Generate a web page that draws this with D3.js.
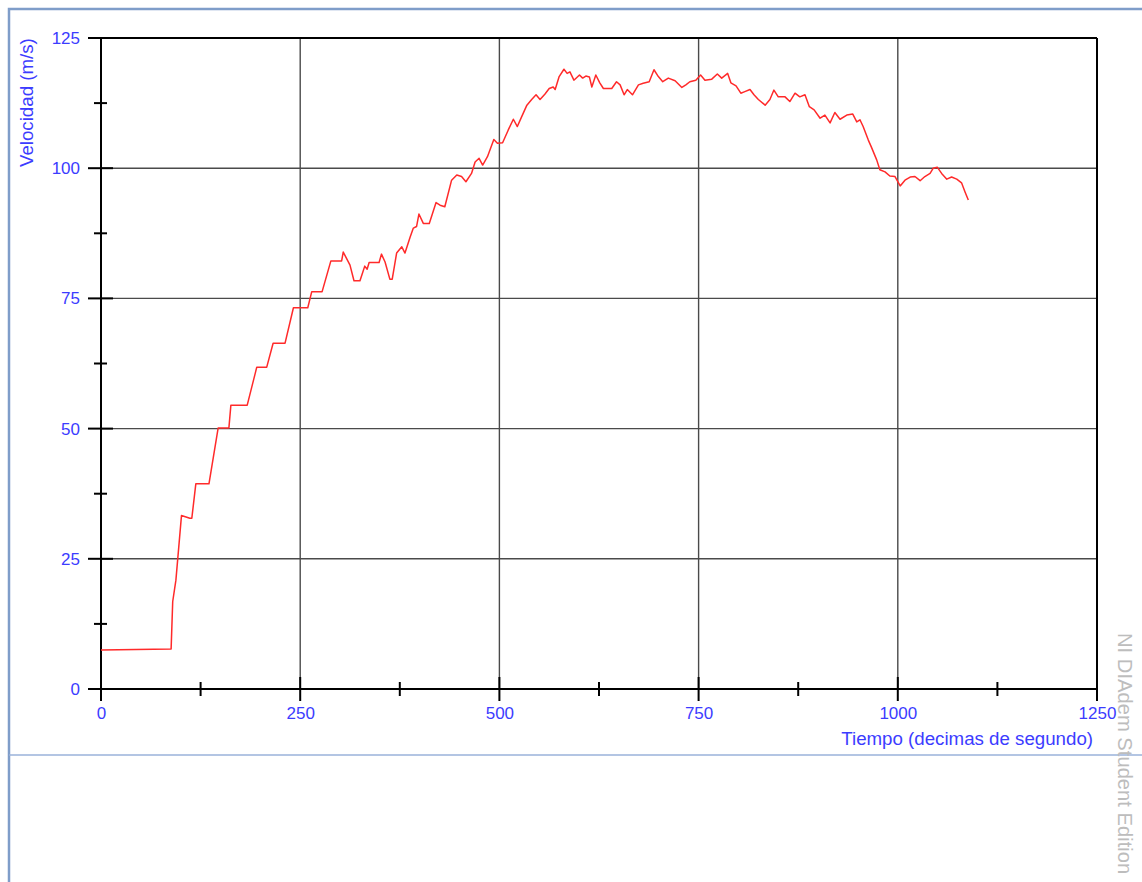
<!DOCTYPE html>
<html>
<head>
<meta charset="utf-8">
<script src="https://cdn.jsdelivr.net/npm/d3@7"></script>
<style>
  html, body { margin: 0; padding: 0; background: #fff; }
  svg { display: block; font-family: "Liberation Sans", Arial, sans-serif; }
</style>
</head>
<body>
<svg id="chart" width="1142" height="882"></svg>
<script>
// Tiempo en décimas de segundo
const tiempo = [
  0, 88, 90, 94, 101, 111.5, 114, 119, 135.5, 147,
  160.5, 163, 183.5, 195.5, 208, 216, 231, 241.5, 259.5, 264.5,
  277.5, 288.5, 302, 304, 312.5, 317.5, 325, 328, 331, 334,
  336.5, 349, 352, 356.5, 362.5, 365.5, 371, 377.5, 381.5, 388,
  392, 396, 399, 404.5, 412, 420.5, 425.5, 431.5, 440, 446.5,
  452.5, 458, 465, 469.5, 474.5, 479, 485, 493, 497.5, 504,
  511, 517.5, 522.5, 528, 534.5, 540.5, 546, 551, 557, 562.5,
  567.5, 570, 575, 581, 585, 588.5, 593.5, 600.5, 604.5, 608.5,
  613, 616, 621, 626, 630.5, 641, 647, 651.5, 656.5, 660.5,
  667, 674.5, 680.5, 688, 694, 699.5, 705, 712, 720.5, 729,
  734, 739, 746.5, 752.5, 758, 766.5, 773.5, 779, 786.5, 790.5,
  797, 803, 808, 814.5, 819.5, 825, 833.5, 839.5, 844.5, 850,
  858.5, 864.5, 871, 877, 883.5, 889, 895, 902.5, 908.5, 915,
  921, 927.5, 936, 943.5, 948.5, 952.5, 956.5, 963, 967, 973.5,
  977.5, 984, 990, 996.5, 1003, 1009, 1015.5, 1021.5, 1028, 1034,
  1040.5, 1044.5, 1049.5, 1055, 1061.5, 1067.5, 1074, 1080, 1084.5, 1088.5
];

// Velocidad en m/s
const velocidad = [
  7.5, 7.7, 16.8, 20.9, 33.3, 32.8, 32.8, 39.4, 39.4, 50.1,
  50.1, 54.5, 54.5, 61.8, 61.8, 66.4, 66.4, 73.2, 73.2, 76.3,
  76.3, 82.2, 82.2, 83.9, 81.4, 78.4, 78.4, 79.8, 81.2, 80.6,
  81.9, 81.9, 83.5, 82.0, 78.7, 78.7, 83.7, 84.9, 83.7, 86.8,
  88.5, 88.8, 91.2, 89.4, 89.4, 93.4, 92.9, 92.6, 97.7, 98.7,
  98.4, 97.4, 99.0, 101.2, 101.9, 100.6, 102.2, 105.5, 104.8, 104.9,
  107.3, 109.4, 108.0, 109.9, 112.1, 113.2, 114.1, 113.2, 114.2, 115.3,
  115.6, 115.1, 117.6, 119.0, 118.2, 118.5, 116.9, 117.9, 117.3, 117.7,
  117.5, 115.6, 117.9, 116.4, 115.3, 115.3, 116.6, 116.0, 114.1, 115.1,
  114.1, 116.0, 116.3, 116.6, 118.9, 117.6, 116.6, 117.3, 116.8, 115.5,
  116.0, 116.6, 116.9, 117.9, 116.9, 117.1, 118.1, 117.3, 118.2, 116.4,
  115.8, 114.4, 114.7, 115.1, 114.1, 113.2, 112.1, 113.2, 115.0, 113.7,
  113.7, 112.8, 114.4, 113.7, 114.1, 111.8, 111.2, 109.6, 110.2, 108.7,
  110.7, 109.4, 110.2, 110.4, 108.9, 109.3, 108.0, 105.4, 104.0, 101.6,
  99.7, 99.3, 98.5, 98.4, 96.6, 97.7, 98.3, 98.4, 97.6, 98.4,
  99.0, 100.0, 100.2, 99.0, 97.9, 98.3, 97.9, 97.2, 95.4, 93.9
];

const xMajor = [0, 250, 500, 750, 1000, 1250];
const xMinor = [125, 375, 625, 875, 1125];
const yMajor = [0, 25, 50, 75, 100, 125];
const yMinor = [12.5, 37.5, 62.5, 87.5, 112.5];

const xTitle = "Tiempo (decimas de segundo)";
const yTitle = "Velocidad (m/s)";
const watermark = "NI DIAdem Student Edition";

const W = 1142, H = 882;
const plotLeft = 101, plotRight = 1097, plotTop = 38, plotBottom = 689;
const blue = "#3c3cff";

const svg = d3.select("#chart");
svg.append("rect").attr("width", W).attr("height", H).attr("fill", "#fff");

// Window frame
svg.append("path")
  .attr("d", `M${W},9 H9 V${H}`)
  .attr("fill", "none").attr("stroke", "#7f9dc9").attr("stroke-width", 2.5);
svg.append("line")
  .attr("x1", 9).attr("x2", W).attr("y1", 755).attr("y2", 755)
  .attr("stroke", "#9ab2da").attr("stroke-width", 1.5);

const x = d3.scaleLinear().domain([0, 1250]).range([plotLeft, plotRight]);
const y = d3.scaleLinear().domain([0, 125]).range([plotBottom, plotTop]);

// Interior grid
const g = svg.append("g");
g.selectAll(".gx").data(xMajor.slice(1, -1)).join("line")
  .attr("x1", d => x(d)).attr("x2", d => x(d))
  .attr("y1", y(0)).attr("y2", y(125))
  .attr("stroke", "#4a4a4a").attr("stroke-width", 1.4);
g.selectAll(".gy").data(yMajor.slice(1, -1)).join("line")
  .attr("x1", x(0)).attr("x2", x(1250))
  .attr("y1", d => y(d)).attr("y2", d => y(d))
  .attr("stroke", "#4a4a4a").attr("stroke-width", 1.4);

// Plot frame: axes plus top/right closing lines
const frame = svg.append("g").attr("stroke", "#000").attr("stroke-width", 2).attr("fill", "none");
frame.append("line").attr("x1", x(0)).attr("x2", x(1250)).attr("y1", y(0)).attr("y2", y(0));
frame.append("line").attr("x1", x(0)).attr("x2", x(0)).attr("y1", y(0)).attr("y2", y(125));
frame.append("line").attr("x1", x(0)).attr("x2", x(1250)).attr("y1", y(125)).attr("y2", y(125));
frame.append("line").attr("x1", x(1250)).attr("x2", x(1250)).attr("y1", y(0)).attr("y2", y(125));

// Ticks crossing the axes
const ticks = svg.append("g").attr("stroke", "#000").attr("stroke-width", 2);
ticks.selectAll(".xM").data(xMajor).join("line")
  .attr("x1", d => x(d)).attr("x2", d => x(d))
  .attr("y1", y(0) - 12).attr("y2", y(0) + 12);
ticks.selectAll(".xm").data(xMinor).join("line")
  .attr("x1", d => x(d)).attr("x2", d => x(d))
  .attr("y1", y(0) - 7).attr("y2", y(0) + 7);
ticks.selectAll(".yM").data(yMajor).join("line")
  .attr("x1", x(0) - 13).attr("x2", x(0) + 12)
  .attr("y1", d => y(d)).attr("y2", d => y(d));
ticks.selectAll(".ym").data(yMinor).join("line")
  .attr("x1", x(0) - 7).attr("x2", x(0) + 6)
  .attr("y1", d => y(d)).attr("y2", d => y(d));

// Tick labels
const xAxis = svg.append("g").attr("transform", `translate(0,${plotBottom})`)
  .call(d3.axisBottom(x).tickValues(xMajor).tickSize(0).tickPadding(18).tickFormat(d3.format("d")));
const yAxis = svg.append("g").attr("transform", `translate(${plotLeft},0)`)
  .call(d3.axisLeft(y).tickValues(yMajor).tickSize(0).tickPadding(21).tickFormat(d3.format("d")));
[xAxis, yAxis].forEach(a => {
  a.select(".domain").remove();
  a.selectAll("text").attr("fill", blue).attr("font-size", 17)
    .attr("font-family", "'Liberation Sans', Arial, sans-serif");
});

// Axis titles
svg.append("text")
  .attr("x", 1093).attr("y", 745)
  .attr("text-anchor", "end")
  .attr("fill", blue).attr("font-size", 18.7)
  .text(xTitle);
svg.append("text")
  .attr("transform", "translate(33,167) rotate(-90)")
  .attr("text-anchor", "start")
  .attr("fill", blue).attr("font-size", 18.7)
  .text(yTitle);

// Watermark
svg.append("text")
  .attr("transform", "translate(1118,633) rotate(90)")
  .attr("text-anchor", "start")
  .attr("fill", "#bdbdbd").attr("font-size", 20.2)
  .text(watermark);

// Velocity trace
const line = d3.line()
  .x((d, i) => x(tiempo[i]))
  .y(d => y(d));
svg.append("path")
  .datum(velocidad)
  .attr("d", line)
  .attr("fill", "none")
  .attr("stroke", "#ff2a2a")
  .attr("stroke-width", 1.5)
  .attr("stroke-linejoin", "round");
</script>
</body>
</html>
